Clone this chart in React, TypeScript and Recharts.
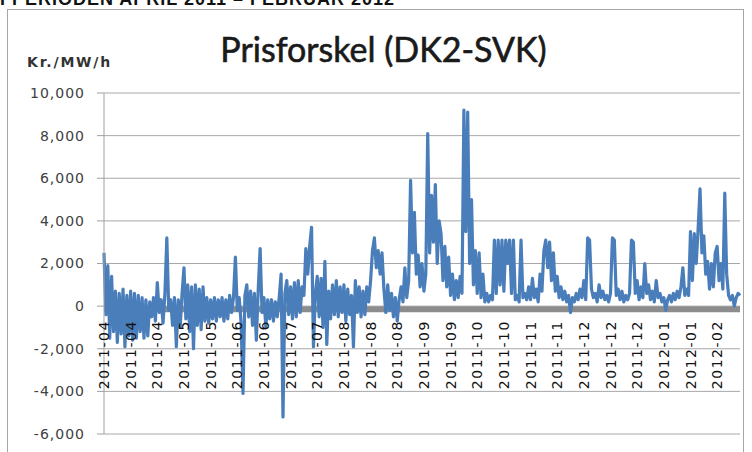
import React from 'react'
import {
  LineChart,
  Line,
  XAxis,
  YAxis,
  CartesianGrid,
  ReferenceLine,
} from 'recharts'

// daily price difference DK2-SVK, kr./MWh (one value per day, 1 Apr 2011 - 29 Feb 2012)
const apr = [
  2500, -400, 1900, -1500, 1400, -1200, 700, -1700, 600, -1300,
  800, -1900, 500, -1400, 700, -1600, 600, -1500, 500, -1200,
  400, -1500, 300, -1400, 200, -500, 400, -700, 1100, -300,
]
const may = [
  300, -800, 600, 3200, -200, 300, -900, 400, -1900, 300,
  -1000, 600, 1800, -600, 1000, -1200, 900, -2000, 1000, -900,
  800, -1100, 900, -700, 400, -800, 300, -600, 400, -700, 300,
]
const jun = [
  -500, 400, -700, 300, -600, 500, -300, 400, 2300, -200,
  400, -800, -4100, 500, 1000, -500, 700, -900, 600, -1600,
  800, 2700, -300, 400, -1000, 300, -600, 300, -700, 200,
]
const jul = [
  -500, 400, 1500, -5200, 600, 1200, -400, 900, -600, 1100,
  -500, 1200, -300, 900, 500, 2700, 1500, 2800, 3700, -1900,
  600, 1400, -500, 1300, -1000, 2100, -1800, 700, -600, 1000, -400,
]
const aug = [
  1200, -500, 900, -300, 1000, -700, 800, -400, 500, -1900,
  1200, -300, 900, -500, 700, -400, 900, 200, 1200, 2600,
  3200, 1800, 2600, 1500, 2500, 800, -300, 1000, -200, 600, -500,
]
const sep = [
  400, -700, 300, 900, 200, 1800, 400, 1200, 5900, 2500,
  4400, 1500, 2400, 900, 2000, 700, 1500, 8100, 2500, 5200,
  3000, 5700, 2000, 4000, 3400, 1200, 2800, 900, 2300, 500,
]
const oct = [
  1500, 300, 1200, 400, 1400, 600, 9200, 3500, 9100, 2000,
  5000, 1000, 2600, 600, 2500, 400, 1500, 200, 600, 200,
  500, 300, 3100, 600, 3100, 1000, 3100, 700, 3100, 2000, 3100,
]
const nov = [
  600, 3100, 300, 500, 200, 3100, 400, 600, 300, 900,
  300, 1300, 400, 800, 200, 1500, 700, 2600, 3100, 1800,
  3000, 1200, 2500, 700, 1400, 400, 900, 300, 700, 200,
]
const dec = [
  500, -300, 400, 200, 600, 300, 800, 400, 1200, 300,
  3200, 3100, 800, 400, 600, 200, 1000, 400, 700, 300,
  500, 200, 600, 3200, 3100, 500, 800, 300, 700, 200, 500,
]
const jan = [
  300, 600, 3100, 3000, 600, 1200, 300, 900, 400, 2000,
  600, 1000, 300, 700, 200, 1200, 400, 600, 200, 400,
  -200, 300, 500, 200, 600, 300, 700, 400, 900, 1800, 500,
]
const feb = [
  800, 500, 3500, 1200, 3400, 2000, 3600, 5500, 2500, 3300,
  1500, 2100, 800, 2000, 900, 2500, 2800, 1200, 2000, 800,
  5300, 1500, 500, 300, 500, 0, 400, 600, 500,
]

const tickLabels = [
  '2011-04', '2011-04', '2011-04', '2011-05', '2011-05', '2011-06',
  '2011-06', '2011-07', '2011-07', '2011-08', '2011-08', '2011-08',
  '2011-09', '2011-09', '2011-10', '2011-10', '2011-11', '2011-11',
  '2011-12', '2011-12', '2011-12', '2012-01', '2012-01', '2012-02',
]
const yTicks = [-6000, -4000, -2000, 0, 2000, 4000, 6000, 8000, 10000]

const values = [...apr, ...may, ...jun, ...jul, ...aug, ...sep, ...oct, ...nov, ...dec, ...jan, ...feb]
const data = values.map((v, i) => ({ day: i, diff: v }))
const tickDays = tickLabels.map((_, i) => i * 14)

const W = 752
const H = 452
const MARGIN = { top: 93, right: 12, bottom: 17, left: 0 }
const Y_MIN = -6000
const Y_MAX = 10000
const PLOT_H = H - MARGIN.top - MARGIN.bottom - 1
const ZERO_Y = MARGIN.top + (PLOT_H * Y_MAX) / (Y_MAX - Y_MIN)

const XTick = (props: any) => {
  const { x, payload } = props
  const label = tickLabels[Math.round(payload.value / 14)]
  return (
    <text
      transform={`translate(${x},${ZERO_Y + 14}) rotate(-90)`}
      textAnchor="end"
      dy="0.36em"
      fill="#111"
      fontSize={14}
      letterSpacing={1.5}
      fontFamily="DejaVu Sans"
    >
      {label}
    </text>
  )
}

export default function App() {
  return (
    <div
      style={{
        position: 'absolute',
        left: 0,
        top: 0,
        width: W,
        height: H,
        overflow: 'hidden',
        background: '#fff',
      }}
    >
      <LineChart width={W} height={H} data={data} margin={MARGIN}>
        <CartesianGrid vertical={false} stroke="#a8a8a8" />
        <ReferenceLine y={-150} stroke="#8c8c8c" strokeWidth={6} zIndex={-10} />
        <XAxis
          type="number"
          dataKey="day"
          domain={[0, values.length - 1]}
          ticks={tickDays}
          interval={0}
          height={1}
          axisLine={false}
          tickLine={false}
          tick={<XTick />}
        />
        <YAxis
          width={104}
          domain={[Y_MIN, Y_MAX]}
          ticks={yTicks}
          interval={0}
          tickSize={7}
          tickMargin={12}
          axisLine={{ stroke: '#a0a0a0' }}
          tickLine={{ stroke: '#a0a0a0' }}
          tickFormatter={(v: number) => v.toLocaleString('en-US')}
          tick={{ fill: '#404040', fontSize: 14, fontFamily: 'DejaVu Sans', letterSpacing: 1 }}
        />
        <Line
          type="linear"
          dataKey="diff"
          stroke="#4a7ebb"
          strokeWidth={3.2}
          strokeLinejoin="round"
          dot={false}
          isAnimationActive={false}
        />
      </LineChart>
      <svg
        width={W}
        height={H}
        style={{ position: 'absolute', left: 0, top: 0, pointerEvents: 'none' }}
      >
        <rect x={7.5} y={9.5} width={736} height={470} fill="none" stroke="#a6a6a6" />
        <text x={0} y={5} fontFamily="Liberation Sans" fontWeight="bold" fontSize={18} letterSpacing={1} fill="#111">
          I PERIODEN APRIL 2011 – FEBRUAR 2012
        </text>
        <text
          x={383.5}
          y={62}
          textAnchor="middle"
          fontFamily="Lato"
          fontSize={34}
          fill="#1a1a1a"
          stroke="#1a1a1a"
          strokeWidth={0.6}
        >
          Prisforskel (DK2-SVK)
        </text>
        <text x={27} y={67} fontFamily="DejaVu Sans" fontWeight="bold" fontSize={14} letterSpacing={1.8} fill="#333">
          Kr./MW/h
        </text>
      </svg>
    </div>
  )
}
